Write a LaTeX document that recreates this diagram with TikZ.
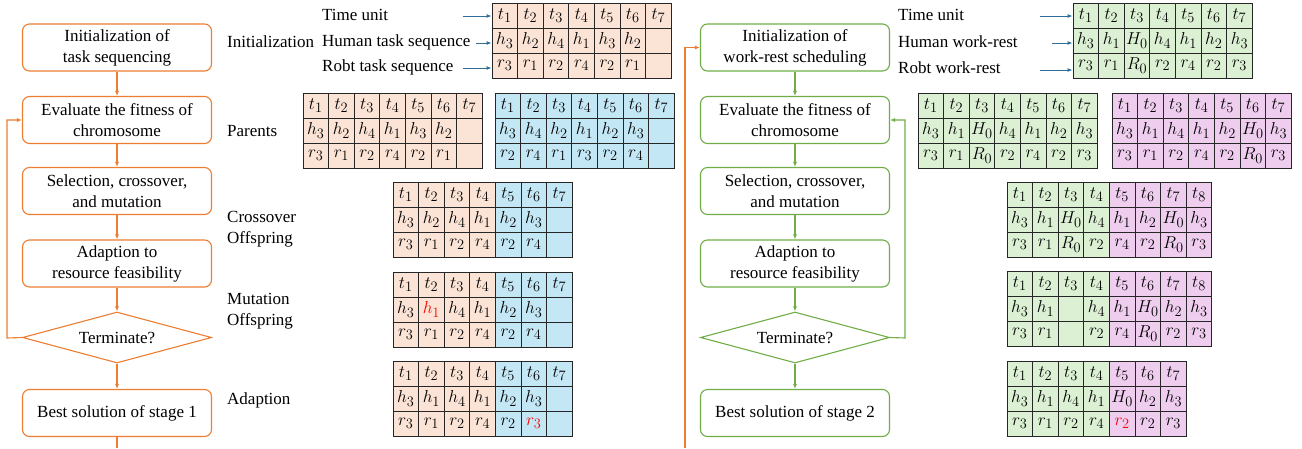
\documentclass[tikz,border=0pt]{standalone}
\usepackage{fontspec}
\setmainfont{Liberation Serif}
\usetikzlibrary{shapes.geometric,arrows.meta}
\definecolor{fo}{HTML}{ED7D31}
\definecolor{fg}{HTML}{70AD47}
\definecolor{cpk}{HTML}{FBE3D5}
\definecolor{cbl}{HTML}{C4E7F6}
\definecolor{cgr}{HTML}{DCF0D4}
\definecolor{cmg}{HTML}{EFCDEE}
\definecolor{arb}{HTML}{2E6E99}
\definecolor{rd}{HTML}{FF0000}
\newcommand\emp{}
\newcommand\crow[7]{%
 \foreach \c [count=\i] in {#7} {%
   \ifnum\i>#4\relax\def\fc{#6}\else\def\fc{#5}\fi
   \node[cell,fill=\fc] (#1-\i) at ({#2+(\i-0.5)*25.6},{#3+12.5}) {$\c$};
 }}
\newcommand\chrom[9]{%
 \crow{#1a}{#2}{#3}{#4}{#5}{#6}{#7}%
 \crow{#1b}{#2}{#3+25}{#4}{#5}{#6}{#8}%
 \crow{#1c}{#2}{#3+50}{#4}{#5}{#6}{#9}}
\begin{document}
\begin{tikzpicture}[x=1pt,y=-1pt,
  every node/.style={font=\fontsize{17}{21}\selectfont},
  cell/.style={draw=black!85,line width=0.8pt,minimum width=25.6pt,minimum height=25pt,inner sep=0pt,font=\fontsize{19}{21}\selectfont},
  fbox/.style={draw=#1,line width=1.1pt,rounded corners=7pt,minimum width=189pt,minimum height=47pt,align=center,inner sep=2pt,fill=white},
  fdia/.style={draw=#1,line width=1.1pt,diamond,aspect=3.7,minimum width=189pt,minimum height=51pt,inner sep=0pt,align=center},
  flow/.style={draw=#1,line width=1.1pt,-{Latex[length=5pt,width=4pt]}},
  fline/.style={draw=#1,line width=1.1pt},
  lab/.style={anchor=west,inner sep=0pt,align=left},
  arr/.style={draw=arb,line width=1pt,-{Latex[length=5pt,width=4pt]}}]
\useasboundingbox (0,0) rectangle (1302,448);

% ---------- left flowchart ----------
\node[fbox=fo] (l1) at (117,47.5) {Initialization of\\task sequencing};
\node[fbox=fo] (l2) at (117,120) {Evaluate the fitness of\\chromosome};
\node[fbox=fo] (l3) at (117,191) {Selection, crossover,\\and mutation};
\node[fbox=fo] (l4) at (117,263.5) {Adaption to\\resource feasibility};
\node[fdia=fo] (l5) at (117,337.5) {Terminate?};
\node[fbox=fo] (l6) at (117,413) {Best solution of stage 1};
\coordinate (lb) at (117,448);
\coordinate (lloop) at (7,338);
\draw[flow=fo] (l1) -- (l2);
\draw[flow=fo] (l2) -- (l3);
\draw[flow=fo] (l3) -- (l4);
\draw[flow=fo] (l4) -- (l5);
\draw[flow=fo] (l5) -- (l6);
\draw[fline=fo] (l6) -- (lb);
\draw[flow=fo] (l5.west) -- (lloop) |- (l2.west);

% ---------- left labels ----------
\node[lab] (pI) at (227,42) {Initialization};
\node[lab] (pP) at (227,131) {Parents};
\node[lab] (pC) at (227,229) {Crossover\\Offspring};
\node[lab] (pM) at (227,311) {Mutation\\Offspring};
\node[lab] (pA) at (227,400) {Adaption};
\node[lab] (tu) at (322,15) {Time unit};
\node[lab] (hs) at (322,42) {Human task sequence};
\node[lab] (rs) at (322,67) {Robt task sequence};
\coordinate (ta) at (463,16);
\coordinate (ha) at (476,43);
\coordinate (ra) at (463,68);

% ---------- left tables ----------
\chrom{A}{492}{3}{7}{cpk}{cbl}{t_1,t_2,t_3,t_4,t_5,t_6,t_7}{h_3,h_2,h_4,h_1,h_3,h_2,\emp}{r_3,r_1,r_2,r_4,r_2,r_1,\emp}
\chrom{B}{303}{93}{7}{cpk}{cbl}{t_1,t_2,t_3,t_4,t_5,t_6,t_7}{h_3,h_2,h_4,h_1,h_3,h_2,\emp}{r_3,r_1,r_2,r_4,r_2,r_1,\emp}
\chrom{C}{495}{93}{0}{cpk}{cbl}{t_1,t_2,t_3,t_4,t_5,t_6,t_7}{h_3,h_4,h_2,h_1,h_2,h_3,\emp}{r_2,r_4,r_1,r_3,r_2,r_4,\emp}
\chrom{D}{393}{182}{4}{cpk}{cbl}{t_1,t_2,t_3,t_4,t_5,t_6,t_7}{h_3,h_2,h_4,h_1,h_2,h_3,\emp}{r_3,r_1,r_2,r_4,r_2,r_4,\emp}
\chrom{E}{393}{272}{4}{cpk}{cbl}{t_1,t_2,t_3,t_4,t_5,t_6,t_7}{h_3,{\color{rd}h_1},h_4,h_1,h_2,h_3,\emp}{r_3,r_1,r_2,r_4,r_2,r_4,\emp}
\chrom{F}{393}{361}{4}{cpk}{cbl}{t_1,t_2,t_3,t_4,t_5,t_6,t_7}{h_3,h_1,h_4,h_1,h_2,h_3,\emp}{r_3,r_1,r_2,r_4,r_2,{\color{rd}r_3},\emp}
\draw[arr] (ta) -- (ta -| Aa-1.west);
\draw[arr] (ha) -- (ha -| Ab-1.west);
\draw[arr] (ra) -- (ra -| Ac-1.west);

% ---------- right flowchart ----------
\node[fbox=fg] (r1) at (795,47.5) {Initialization of\\work-rest scheduling};
\node[fbox=fg] (r2) at (795,120) {Evaluate the fitness of\\chromosome};
\node[fbox=fg] (r3) at (795,191) {Selection, crossover,\\and mutation};
\node[fbox=fg] (r4) at (795,263.5) {Adaption to\\resource feasibility};
\node[fdia=fg] (r5) at (795,337.5) {Terminate?};
\node[fbox=fg] (r6) at (795,413) {Best solution of stage 2};
\coordinate (rloop) at (905,338);
\coordinate (ob) at (685,448);
\draw[flow=fg] (r1) -- (r2);
\draw[flow=fg] (r2) -- (r3);
\draw[flow=fg] (r3) -- (r4);
\draw[flow=fg] (r4) -- (r5);
\draw[flow=fg] (r5) -- (r6);
\draw[flow=fg] (r5.east) -- (rloop) |- (r2.east);
\draw[flow=fo] (ob) |- (r1.west);

% ---------- right labels ----------
\node[lab] (tu2) at (898,15) {Time unit};
\node[lab] (hw) at (898,42) {Human work-rest};
\node[lab] (rw) at (898,68) {Robt work-rest};
\coordinate (tb) at (1040,16);
\coordinate (hb) at (1052,43);
\coordinate (rb) at (1040,70);

% ---------- right tables ----------
\chrom{G}{1073}{3}{7}{cgr}{cmg}{t_1,t_2,t_3,t_4,t_5,t_6,t_7}{h_3,h_1,H_0,h_4,h_1,h_2,h_3}{r_3,r_1,R_0,r_2,r_4,r_2,r_3}
\chrom{H}{918}{93}{7}{cgr}{cmg}{t_1,t_2,t_3,t_4,t_5,t_6,t_7}{h_3,h_1,H_0,h_4,h_1,h_2,h_3}{r_3,r_1,R_0,r_2,r_4,r_2,r_3}
\chrom{I}{1112}{93}{0}{cgr}{cmg}{t_1,t_2,t_3,t_4,t_5,t_6,t_7}{h_3,h_1,h_4,h_1,h_2,H_0,h_3}{r_3,r_1,r_2,r_4,r_2,R_0,r_3}
\chrom{J}{1007}{182}{4}{cgr}{cmg}{t_1,t_2,t_3,t_4,t_5,t_6,t_7,t_8}{h_3,h_1,H_0,h_4,h_1,h_2,H_0,h_3}{r_3,r_1,R_0,r_2,r_4,r_2,R_0,r_3}
\chrom{K}{1007}{271}{4}{cgr}{cmg}{t_1,t_2,t_3,t_4,t_5,t_6,t_7,t_8}{h_3,h_1,\emp,h_4,h_1,H_0,h_2,h_3}{r_3,r_1,\emp,r_2,r_4,R_0,r_2,r_3}
\chrom{L}{1007}{361}{4}{cgr}{cmg}{t_1,t_2,t_3,t_4,t_5,t_6,t_7}{h_3,h_1,h_4,h_1,H_0,h_2,h_3}{r_3,r_1,r_2,r_4,{\color{rd}r_2},r_2,r_3}
\draw[arr] (tb) -- (tb -| Ga-1.west);
\draw[arr] (hb) -- (hb -| Gb-1.west);
\draw[arr] (rb) -- (rb -| Gc-1.west);
\end{tikzpicture}
\end{document}
